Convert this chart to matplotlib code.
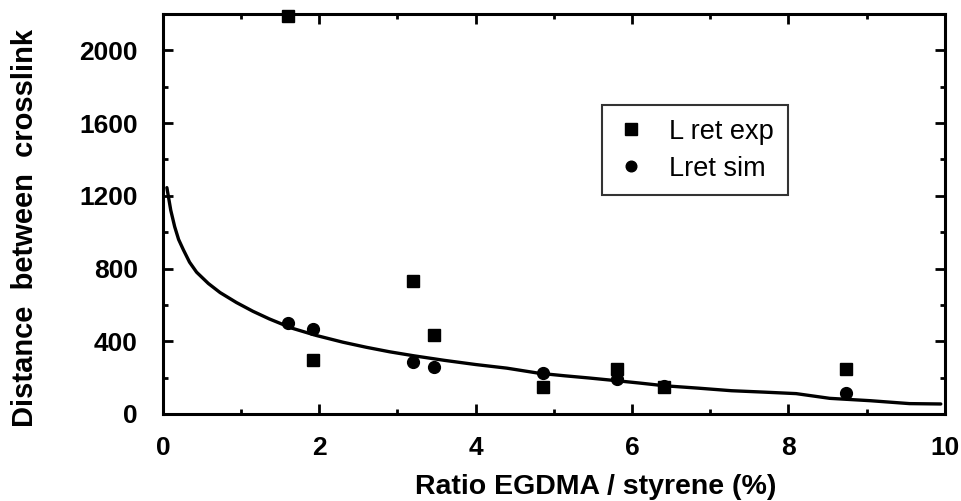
import matplotlib
matplotlib.use("Agg")
import matplotlib.pyplot as plt
from matplotlib.ticker import MultipleLocator

# Experimental and simulated retraction lengths vs crosslinker ratio
ratio = [1.6, 1.92, 3.2, 3.47, 4.86, 5.81, 6.41, 8.74]
l_ret_exp = [2190, 295, 730, 435, 150, 248, 150, 248]
l_ret_sim = [498, 466, 287, 258, 228, 192, 154, 115]

# Fitted trend curve
fit_x = [0.05, 0.1, 0.15, 0.2, 0.26, 0.34, 0.43, 0.58, 0.73, 0.94, 1.15, 1.36,
         1.65, 1.96, 2.3, 2.6, 2.9, 3.21, 3.6, 4.0, 4.4, 4.81, 5.14, 5.45,
         5.78, 6.1, 6.42, 6.85, 7.27, 7.7, 8.1, 8.53, 9.05, 9.55, 9.95]
fit_y = [1245, 1120, 1030, 960, 904, 835, 780, 718, 668, 613, 565, 523,
         472, 432, 395, 367, 342, 320, 295, 272, 252, 224, 210, 198,
         184, 170, 155, 142, 128, 120, 112, 86, 73, 57, 55]

plt.rcParams["font.family"] = ["Liberation Sans", "DejaVu Sans"]

fig = plt.figure(figsize=(9.62, 5.01), dpi=100)
ax = fig.add_axes([0.1694, 0.1737, 0.8126, 0.7983])

ax.plot(fit_x, fit_y, color="black", lw=2.4, solid_capstyle="round",
        solid_joinstyle="round")
ax.plot(ratio, l_ret_exp, linestyle="none", marker="s", ms=9, color="black",
        label="L ret exp", clip_on=False, zorder=3)
ax.plot(ratio, l_ret_sim, linestyle="none", marker="o", ms=8.5, color="black",
        label="Lret sim", clip_on=False, zorder=3)

ax.set_xlim(0, 10)
ax.set_ylim(0, 2200)
ax.xaxis.set_major_locator(MultipleLocator(2))
ax.xaxis.set_minor_locator(MultipleLocator(1))
ax.yaxis.set_major_locator(MultipleLocator(400))
ax.yaxis.set_minor_locator(MultipleLocator(200))

for s in ax.spines.values():
    s.set_linewidth(2.2)
ax.tick_params(which="both", direction="in", top=True, right=True,
               width=2, labelsize=19)
ax.tick_params(which="major", length=7)
ax.tick_params(which="minor", length=3.5)
ax.tick_params(axis="y", which="major", pad=18)
ax.tick_params(axis="x", which="major", pad=16)
for lab in ax.get_xticklabels() + ax.get_yticklabels():
    lab.set_fontweight("bold")

ax.set_xlabel("Ratio EGDMA / styrene (%)", fontsize=20.5, fontweight="bold")
ax.xaxis.set_label_coords(0.554, -0.151)
ax.set_ylabel("Distance  between  crosslink", fontsize=21, fontweight="bold")
ax.yaxis.set_label_coords(-0.158, 0.465)

leg = ax.legend(loc="upper left", bbox_to_anchor=(0.561, 0.7725), fontsize=19.5,
                frameon=True, fancybox=False, edgecolor="black",
                borderpad=0.5, handletextpad=0.8, markerscale=0.9,
                labelspacing=0.42, handlelength=1.2, borderaxespad=0)
leg.get_frame().set_linewidth(1.5)

fig.savefig("out.png", dpi=100)
